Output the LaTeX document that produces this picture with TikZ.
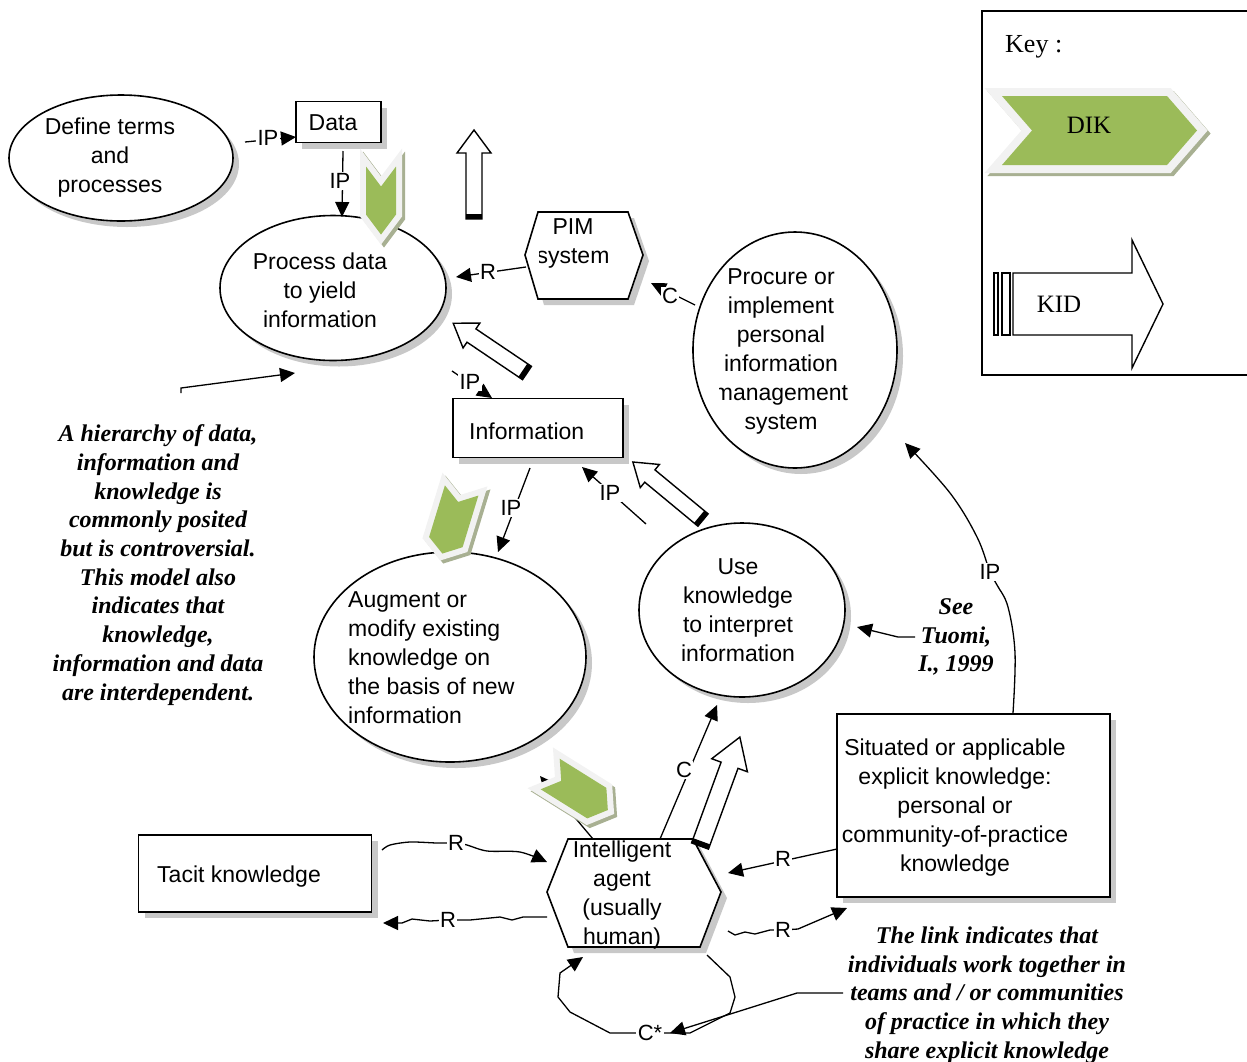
\documentclass[tikz,border=0pt]{standalone}
\usepackage{fontspec}
\setmainfont{Liberation Serif}
\setsansfont{Liberation Sans}
\usetikzlibrary{arrows.meta,shadows,shapes.geometric}
\definecolor{dikgreen}{RGB}{155,187,89}
\definecolor{ringgray}{RGB}{242,242,242}
\definecolor{chevshadow}{RGB}{168,176,146}
\definecolor{shadowgray}{RGB}{200,200,200}
% hollow block arrow: tail x, tail y, angle, length, shaft half width, head half width, head length
\newcommand{\kidarrow}[7]{%
\begin{scope}[shift={(#1,#2)},rotate=#3]
\filldraw[fill=white,draw=black,line width=1.4pt,line join=miter] (0,-#5) -- (#4-#7,-#5) -- (#4-#7,-#6) -- (#4,0) -- (#4-#7,#6) -- (#4-#7,#5) -- (0,#5) -- cycle;
\fill[black] (0,-#5) rectangle (5,#5);
\end{scope}}
% chevron: centre x, centre y, angle, length, width, point depth, ring
\newcommand{\dikchev}[7]{%
\begin{scope}[shift={(#1+3,#2+3)},rotate=#3]
\filldraw[draw=chevshadow,fill=chevshadow,line width=#7*2pt,line join=miter] (-#4/2,-#5/2) -- (#4/2-#6,-#5/2) -- (#4/2,0) -- (#4/2-#6,#5/2) -- (-#4/2,#5/2) -- (-#4/2+#6,0) -- cycle;
\end{scope}
\begin{scope}[shift={(#1,#2)},rotate=#3]
\filldraw[draw=ringgray,fill=ringgray,line width=#7*2pt,line join=miter] (-#4/2,-#5/2) -- (#4/2-#6,-#5/2) -- (#4/2,0) -- (#4/2-#6,#5/2) -- (-#4/2,#5/2) -- (-#4/2+#6,0) -- cycle;
\fill[dikgreen] (-#4/2,-#5/2) -- (#4/2-#6,-#5/2) -- (#4/2,0) -- (#4/2-#6,#5/2) -- (-#4/2,#5/2) -- (-#4/2+#6,0) -- cycle;
\end{scope}}
\begin{document}
\begin{tikzpicture}[x=1pt,y=-1pt,
  shp/.style={draw=black,line width=1.6pt,fill=white,drop shadow={shadow xshift=6pt,shadow yshift=-6pt,fill=shadowgray,opacity=1}},
  ell/.style={shp,ellipse,inner sep=0pt},
  box/.style={shp,rectangle,inner sep=0pt},
  txt/.style={font=\sffamily\fontsize{23}{29}\selectfont,align=center,inner sep=0pt},
  note/.style={font=\rmfamily\bfseries\itshape\fontsize{24}{28.7}\selectfont,align=center,inner sep=0pt},
  conn/.style={line width=1.3pt,-{Triangle[length=15pt,width=14pt]}},
  lbl/.style={font=\sffamily\fontsize{22}{24}\selectfont,fill=white,inner sep=1.5pt}]
\useasboundingbox (0,0) rectangle (1247,1061);

% ---------- shapes ----------
\node[ell,minimum width=224pt,minimum height=126pt] (def) at (121,158) {};
\node[box,minimum width=85pt,minimum height=41pt] (data) at (338.5,122) {};
\node[ell,minimum width=226pt,minimum height=145pt] (proc) at (333,288) {};
\node[ell,minimum width=204pt,minimum height=236pt] (procure) at (795,350) {};
\node[box,minimum width=170pt,minimum height=59pt] (info) at (538,428) {};
\node[ell,minimum width=272pt,minimum height=210pt] (augment) at (450,657) {};
\node[ell,minimum width=206pt,minimum height=174pt] (use) at (742,610) {};
\node[box,minimum width=273pt,minimum height=183pt] (sit) at (973.5,805.5) {};
\node[box,minimum width=233pt,minimum height=77pt] (tacit) at (255,873.5) {};
\filldraw[shp] (538,212) -- (628,212) -- (643,255) -- (628,299) -- (538,299) -- (525,255) -- cycle;
\filldraw[shp] (568,839) -- (693,839) -- (721,892) -- (700,947) -- (568,947) -- (547,892) -- cycle;

% ---------- texts ----------
\node[txt] (defT) at (110,158) {Define terms\\and\\processes};
\node[txt] (dataT) at (333,123) {Data};
\node[txt] (procT) at (320,290) {Process data\\to yield\\information};
\begin{scope}[even odd rule]
\clip (0,0) rectangle (1247,1061) (500,243) rectangle (539,272) (690,378) rectangle (719,406);
\node[txt] (pimT) at (573,243) {PIM\\system};
\node[txt] (procureT) at (781,351) {Procure or\\implement\\personal\\information\\management\\system};
\end{scope}
\node[txt,anchor=west] (infoT) at (469,431) {Information};
\node[txt,anchor=west,align=left] (augT) at (348,658) {Augment or\\modify existing\\knowledge on\\the basis of new\\information};
\node[txt] (useT) at (738,610) {Use\\knowledge\\to interpret\\information};
\node[txt] (sitT) at (955,808) {Situated or applicable\\explicit knowledge:\\personal or\\community-of-practice\\knowledge};
\node[txt,anchor=west] (tacitT) at (157,877) {Tacit knowledge};
\node[txt] (agentT) at (622,895) {Intelligent\\agent\\(usually\\human)};

\node[note] (noteL) at (158,565) {A hierarchy of data,\\information and\\knowledge is\\commonly posited\\but is controversial.\\This model also\\indicates that\\knowledge,\\information and data\\are interdependent.};
\node[note] (noteT) at (956,637) {See\\Tuomi,\\I., 1999};
\node[note] (noteB) at (987,995) {The link indicates that\\individuals work together in\\teams and / or communities\\of practice in which they\\share explicit knowledge};

% ---------- key ----------
\draw[line width=1.6pt] (982,11) rectangle (1262,375);
\node[font=\rmfamily\fontsize{26}{28}\selectfont,anchor=base west,inner sep=0pt] (keyT) at (1005,52) {Key :};
\dikchev{1099.5}{130.5}{0}{195}{69}{30}{8}
\node[font=\rmfamily\fontsize{25}{27}\selectfont,anchor=base,inner sep=0pt] (dikT) at (1089,133) {DIK};
\filldraw[fill=white,line width=1.4pt] (994,273) rectangle (998,335);
\filldraw[fill=white,line width=1.4pt] (1002,273) rectangle (1010,335);
\filldraw[fill=white,line width=1.4pt,line join=miter] (1013,273) -- (1132,273) -- (1132,240) -- (1163,304) -- (1132,368) -- (1132,335) -- (1013,335) -- cycle;
\node[font=\rmfamily\fontsize{25}{27}\selectfont,anchor=base,inner sep=0pt] (kidT) at (1059,312) {KID};

% ---------- connectors ----------
\coordinate (c1s) at (245,142);
\draw[conn] (c1s) -- (296,137) coordinate (c1e);
\coordinate (c2s) at (343,151);
\draw[conn] (c2s) -- (342,217) coordinate (c2e);
\coordinate (c3s) at (452,371);
\draw[conn] (c3s) -- (492,398) coordinate (c3e);
\coordinate (c4s) at (526,267);
\draw[conn] (c4s) -- (456,277) coordinate (c4e);
\coordinate (c5s) at (695,305);
\draw[conn] (c5s) -- (651,283) coordinate (c5e);
\coordinate (c6s) at (530,468);
\draw[conn] (c6s) -- (498,552) coordinate (c6e);
\coordinate (c7s) at (646,524);
\draw[conn] (c7s) -- (582,467) coordinate (c7e);
\coordinate (c8s) at (1013,713);
\draw[conn] plot[smooth,tension=0.6] coordinates {(c8s) (1015,653) (1008,607) (997,585) (990,572) (977,537) (950,493) (905,443)};
\draw[conn] (915,637) coordinate (c9s) -- (898,637) -- (857,627) coordinate (c9e);
\draw[conn] (181,393) coordinate (c10s) -- (181,388) -- (295,373) coordinate (c10e);
\coordinate (c11s) at (660,839);
\draw[conn] (c11s) -- (717,705) coordinate (c11e);
\draw[conn] plot[smooth,tension=0.5] coordinates {(382,850) (390,845) (410,842) (437,843) (456,843) (467,845) (487,851) (520,852) (547,862)};
\draw[conn] (547,917) -- (523,917) -- (512,920) -- (500,917) -- (470,920) -- (448,920) -- (430,921) -- (412,919) -- (402,923) -- (383,923);
\coordinate (c14s) at (837,849);
\draw[conn] (c14s) -- (728,873) coordinate (c14e);
\draw[conn] (728,931) -- (735,935) -- (745,932) -- (755,934) -- (770,930) -- (783,930) -- (798,929) -- (847,908);
\draw[conn] (707,955) -- (730,977) -- (735,997) -- (730,1013) -- (690,1033) -- (610,1033) -- (570,1012) -- (558,997) -- (560,973) -- (583,957);
\draw[conn] (843,993) coordinate (c17s) -- (797,993) -- (670,1033) coordinate (c17e);
\draw[conn] (593,839) coordinate (c18s) -- (540,776) coordinate (c18e);

% ---------- labels ----------
\node[lbl] (l1) at (268,138) {IP};
\node[lbl] (l2) at (340,181) {IP};
\node[lbl] (l3) at (470,382) {IP};
\node[lbl] (l4) at (488,272) {R};
\node[lbl] (l5) at (670,296) {C};
\node[lbl] (l6) at (511,508) {IP};
\node[lbl] (l7) at (610,493) {IP};
\node[lbl] (l8) at (990,572) {IP};
\node[lbl] (l11) at (684,770) {C};
\node[lbl] (l12) at (456,843) {R};
\node[lbl] (l13) at (448,920) {R};
\node[lbl] (l14) at (783,859) {R};
\node[lbl] (l15) at (783,930) {R};
\node[lbl] (l16) at (650,1033) {C*};

% ---------- DIK chevrons and KID arrows ----------
\dikchev{381}{200.5}{-90}{68}{30}{20}{6}
\dikchev{452}{522}{-107}{66}{35}{12}{6}
\dikchev{579}{792}{-32}{68}{36}{13}{6}
\kidarrow{474}{219}{90}{89}{8}{17}{23}
\kidarrow{527}{373}{146}{89}{8}{15}{22}
\kidarrow{703}{520}{140.4}{91}{8}{15}{22}
\kidarrow{700}{846}{69.9}{116}{9}{19}{30}
\end{tikzpicture}
\end{document}
